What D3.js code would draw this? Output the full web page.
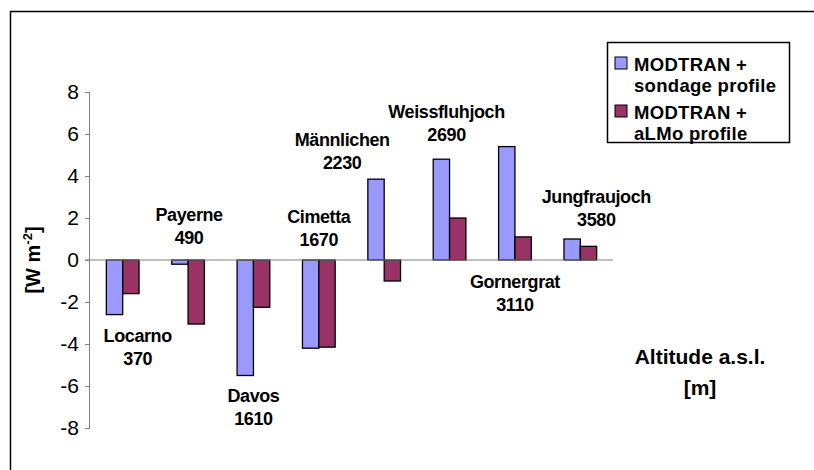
<!DOCTYPE html>
<html lang="en">
<head>
  <meta charset="UTF-8">
  <title>MODTRAN longwave difference by station</title>
  <script src="https://d3js.org/d3.v7.min.js"></script>
  <style>
    body { margin: 0; background: #fff; }
    svg { display: block; font-family: "Liberation Sans", Arial, sans-serif; }
  </style>
</head>
<body>
  <svg width="814" height="470"></svg>
  <script>
  // stations and their altitudes (m a.s.l.)
  var stations  = ["Locarno", "Payerne", "Davos", "Cimetta", "Männlichen", "Weissfluhjoch", "Gornergrat", "Jungfraujoch"];
  var altitudes = ["370", "490", "1610", "1670", "2230", "2690", "3110", "3580"];
  // differences [W m-2]
  var sondage = [-2.6, -0.2, -5.5, -4.2, 3.85, 4.8, 5.4, 1.0];
  var almo    = [-1.6, -3.05, -2.25, -4.15, -1.0, 2.0, 1.1, 0.65];
  var seriesNames = [["MODTRAN +", "sondage profile"], ["MODTRAN +", "aLMo profile"]];
  var yTicks = [-8, -6, -4, -2, 0, 2, 4, 6, 8];

  // where each station label sits: x shift from group centre (px), y in axis units
  var labelPlace = {
    "Locarno": [15, -3.6], "Payerne": [1, 2.15], "Davos": [0, -6.45], "Cimetta": [0, 2.05],
    "Männlichen": [-42, 5.75], "Weissfluhjoch": [-3, 7.05], "Gornergrat": [0, -1.05], "Jungfraujoch": [16, 3.0]
  };

  var colors = ["#9999ff", "#993366"];

  var svg = d3.select("svg"),
      margin = {top: 92, left: 90},
      width = 523,
      height = 336,
      g = svg.append("g").attr("transform", "translate(" + margin.left + "," + margin.top + ")");

  // outer frame (runs off the right and bottom edge)
  svg.append("rect")
      .attr("x", 10.5).attr("y", 11.5)
      .attr("width", 820).attr("height", 480)
      .attr("fill", "none").attr("stroke", "#000").attr("stroke-width", 1.5);

  var x = d3.scaleBand()
      .domain(stations)
      .range([0, width])
      .paddingInner(0.5)
      .paddingOuter(0.25);
  var x1 = d3.scaleBand().domain([0, 1]).range([0, x.bandwidth()]);
  var y = d3.scaleLinear().domain([-8, 8]).range([height, 0]);

  // y axis
  var yAxis = g.append("g")
      .call(d3.axisLeft(y).tickValues(yTicks).tickSize(5).tickPadding(6)
        .tickFormat(function(d) { return String(d); }));
  yAxis.select(".domain").attr("stroke", "#808080").attr("d", "M-0.5,0V" + height);
  yAxis.selectAll(".tick line").attr("stroke", "#808080");
  yAxis.selectAll(".tick text")
      .attr("fill", "#000")
      .style("font-size", "21px")
      .style("font-family", "'Liberation Sans', Arial, sans-serif");

  // bars
  var data = stations.map(function(s, i) { return {name: s, alt: altitudes[i], vals: [sondage[i], almo[i]]}; });

  var groups = g.selectAll(".grp")
    .data(data)
    .enter().append("g")
      .attr("class", "grp")
      .attr("transform", function(d) { return "translate(" + x(d.name) + ",0)"; });

  groups.selectAll("rect")
    .data(function(d) { return d.vals; })
    .enter().append("rect")
      .attr("x", function(v, i) { return x1(i); })
      .attr("y", function(v) { return y(Math.max(0, v)); })
      .attr("width", x1.bandwidth())
      .attr("height", function(v) { return Math.abs(y(v) - y(0)); })
      .attr("fill", function(v, i) { return colors[i]; })
      .attr("stroke", "#000")
      .attr("stroke-width", 1.3);

  // zero line
  g.append("line")
      .attr("x1", -5).attr("x2", width)
      .attr("y1", y(0)).attr("y2", y(0))
      .attr("stroke", "#808080").attr("stroke-width", 1.2);

  // station labels
  var labels = g.selectAll(".lab")
    .data(data)
    .enter().append("text")
      .attr("class", "lab")
      .attr("text-anchor", "middle")
      .attr("font-weight", "bold")
      .attr("font-size", "18px")
      .attr("letter-spacing", "-0.4px")
      .attr("transform", function(d) {
        var p = labelPlace[d.name];
        return "translate(" + (x(d.name) + x.bandwidth() / 2 + p[0]) + "," + y(p[1]) + ")";
      });
  labels.append("tspan").attr("x", 0).attr("dy", "0.35em").text(function(d) { return d.name; });
  labels.append("tspan").attr("x", 0).attr("dy", 23).text(function(d) { return d.alt; });

  // y axis title
  var yt = svg.append("text")
      .attr("transform", "translate(40,260) rotate(-90)")
      .attr("text-anchor", "middle")
      .attr("font-weight", "bold")
      .attr("font-size", "20px");
  yt.append("tspan").text("[W m");
  yt.append("tspan").attr("dy", -8).attr("font-size", "13px").text("-2");
  yt.append("tspan").attr("dy", 8).text("]");

  // x axis title
  var xt = svg.append("text")
      .attr("text-anchor", "middle")
      .attr("font-weight", "bold")
      .attr("font-size", "21px")
      .attr("transform", "translate(700,357)");
  xt.append("tspan").attr("x", 0).attr("dy", "0.35em").text("Altitude a.s.l.");
  xt.append("tspan").attr("x", 0).attr("dy", 31).text("[m]");

  // legend
  var legend = svg.append("g").attr("transform", "translate(607,42)");
  legend.append("rect")
      .attr("x", 0.5).attr("y", 0.5).attr("width", 182).attr("height", 100)
      .attr("fill", "#fff").attr("stroke", "#000").attr("stroke-width", 1.5);

  var items = legend.selectAll(".item")
    .data(seriesNames)
    .enter().append("g")
      .attr("class", "item")
      .attr("transform", function(d, i) { return "translate(0," + (i * 48) + ")"; });
  items.append("rect")
      .attr("x", 8).attr("y", 15).attr("width", 12).attr("height", 12)
      .attr("fill", function(d, i) { return colors[i]; })
      .attr("stroke", "#000").attr("stroke-width", 1);
  var lt = items.append("text")
      .attr("font-weight", "bold")
      .attr("font-size", "18.5px")
      .attr("letter-spacing", "0.3px");
  lt.append("tspan").attr("x", 27).attr("y", 28.5).text(function(d) { return d[0]; });
  lt.append("tspan").attr("x", 27).attr("y", 50).text(function(d) { return d[1]; });
  </script>
</body>
</html>
